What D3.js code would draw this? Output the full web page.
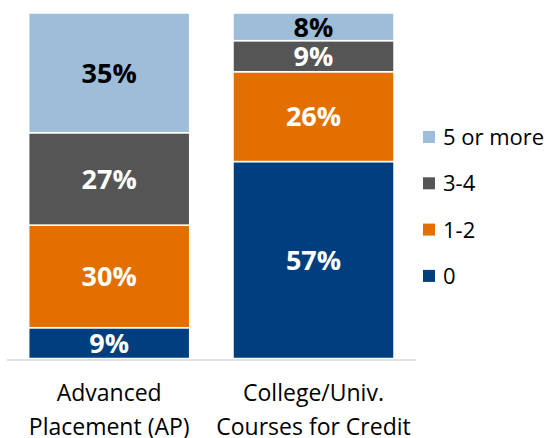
<!DOCTYPE html>
<html>
<head>
<meta charset="utf-8">
<script src="https://cdn.jsdelivr.net/npm/d3@7"></script>
<style>
  body { margin: 0; background: #fff; }
  text { font-family: "Open Sans", "Noto Sans", sans-serif; }
</style>
</head>
<body>
<svg id="chart" width="552" height="438"></svg>
<script>
var categories = [["Advanced", "Placement (AP)"], ["College/Univ.", "Courses for Credit"]],
	seriesNames = ["0", "1-2", "3-4", "5 or more"],
	zero = [9, 57],
	oneTwo = [30, 26],
	threeFour = [27, 9],
	fiveMore = [35, 8];

var colors = ["#003e7e", "#e36f00", "#555555", "#9dbdd9"],
	labelColors = ["#fff", "#fff", "#fff", "#000"];

var svg = d3.select("#chart"),
	top0 = 13, bottom = 358.5;

var rows = categories.map(function(c, i) {
	var r = { key: i };
	r["0"] = zero[i]; r["1-2"] = oneTwo[i]; r["3-4"] = threeFour[i]; r["5 or more"] = fiveMore[i];
	return r;
});

// 100% stacked, like the original
var stack = d3.stack().keys(seriesNames).offset(d3.stackOffsetExpand);
var layers = stack(rows);

var x = d3.scaleBand().domain([0, 1]).range([28.7, 394]).paddingInner(0.212).paddingOuter(0);
var y = d3.scaleLinear().domain([0, 1]).range([bottom, top0]);

var g = svg.selectAll("g.layer").data(layers).enter().append("g")
	.attr("class", "layer")
	.attr("fill", function(d, i) { return colors[i]; });

g.selectAll("rect").data(function(d) { return d; }).enter().append("rect")
	.attr("x", function(d) { return x(d.data.key); })
	.attr("width", x.bandwidth())
	.attr("y", function(d) { return y(d[1]); })
	.attr("height", function(d) { return y(d[0]) - y(d[1]); })
	.attr("stroke", "#fff")
	.attr("stroke-width", 1.5);

// data labels
layers.forEach(function(layer, li) {
	svg.selectAll("text.v" + li).data(layer).enter().append("text")
		.attr("class", "v" + li)
		.attr("x", function(d) { return x(d.data.key) + x.bandwidth() / 2; })
		.attr("y", function(d) { return (y(d[0]) + y(d[1])) / 2; })
		.attr("dy", "0.36em")
		.attr("text-anchor", "middle")
		.attr("font-size", 27)
		.attr("font-weight", "bold")
		.attr("fill", labelColors[li])
		.text(function(d) { return d.data[layer.key] + "%"; });
});

// baseline
svg.append("line")
	.attr("x1", 7).attr("x2", 416)
	.attr("y1", 360).attr("y2", 360)
	.attr("stroke", "#d9d9d9").attr("stroke-width", 1.5);

// category labels
categories.forEach(function(lines, i) {
	var t = svg.append("text")
		.attr("text-anchor", "middle")
		.attr("font-size", 23)
		.attr("fill", "#000");
	lines.forEach(function(l, j) {
		t.append("tspan")
			.attr("x", x(i) + x.bandwidth() / 2)
			.attr("y", 393 + j * 34)
			.attr("dy", "0.36em")
			.text(l);
	});
});

// legend, top entry is "5 or more"
var legend = svg.selectAll("g.legend").data(seriesNames.slice().reverse()).enter().append("g")
	.attr("class", "legend")
	.attr("transform", function(d, i) { return "translate(423," + (137 + i * 46.3) + ")"; });

legend.append("rect")
	.attr("x", 0).attr("y", -6)
	.attr("width", 12).attr("height", 12)
	.attr("fill", function(d) { return colors[seriesNames.indexOf(d)]; });

legend.append("text")
	.attr("x", 20)
	.attr("dy", "0.36em")
	.attr("font-size", 22)
	.attr("fill", "#000")
	.text(function(d) { return d; });
</script>
</body>
</html>
